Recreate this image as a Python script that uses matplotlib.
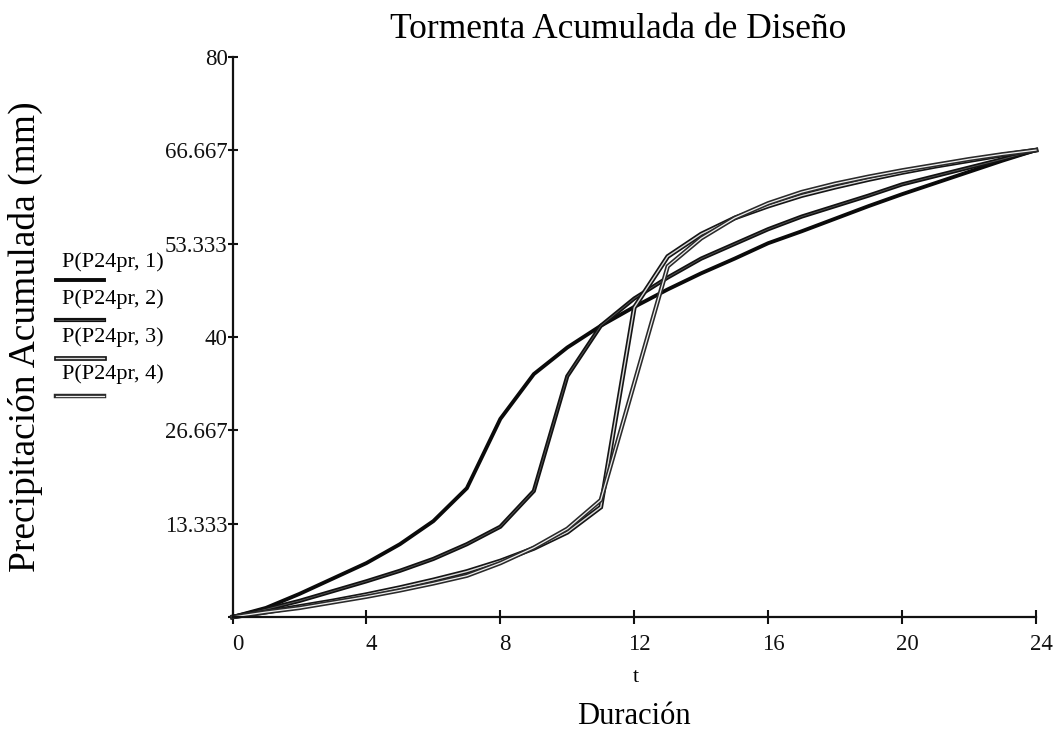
import matplotlib
matplotlib.use("Agg")
import matplotlib.pyplot as plt
import matplotlib.patheffects as pe
import matplotlib.transforms as mtransforms
from matplotlib.lines import Line2D

plt.rcParams["font.family"] = ["Liberation Serif", "DejaVu Serif"]

# Cumulative design storm (mm) per hour, one curve per distribution
hours = list(range(25))
p_1 = [0.0, 1.3, 3.3, 5.5, 7.7, 10.4, 13.7, 18.4, 28.3, 34.7, 38.5, 41.6, 44.3,
       46.8, 49.1, 51.2, 53.4, 55.1, 56.9, 58.7, 60.4, 62.0, 63.6, 65.2, 66.7]
p_2 = [0.0, 1.1, 2.3, 3.7, 5.1, 6.6, 8.3, 10.4, 12.9, 18.0, 34.4, 41.6, 45.5,
       48.5, 51.2, 53.3, 55.4, 57.2, 58.7, 60.2, 61.8, 63.0, 64.2, 65.4, 66.7]
p_3 = [0.0, 0.7, 1.5, 2.3, 3.2, 4.2, 5.3, 6.5, 8.0, 9.8, 12.1, 15.7, 44.2,
       51.5, 54.7, 57.0, 58.7, 60.2, 61.4, 62.5, 63.5, 64.4, 65.2, 66.0, 66.7]
p_4 = [0.0, 0.7, 1.3, 2.1, 2.9, 3.8, 4.8, 5.9, 7.7, 9.9, 12.6, 16.7, 33.4,
       50.1, 54.1, 57.0, 59.1, 60.7, 61.9, 62.9, 63.8, 64.6, 65.4, 66.1, 66.7]

series_labels = ["P(P24pr, 1)", "P(P24pr, 2)", "P(P24pr, 3)", "P(P24pr, 4)"]
x_ticks = [0, 4, 8, 12, 16, 20, 24]
y_ticks = [0, 13.333, 26.667, 40, 53.333, 66.667, 80]
y_tick_labels = ["", "13.333", "26.667", "40", "53.333", "66.667", "80"]

title = "Tormenta Acumulada de Diseño"
x_var = "t"
x_label = "Duración"
y_label = "Precipitación Acumulada (mm)"

W, H = 1057, 733
fig = plt.figure(figsize=(W / 100, H / 100), dpi=100)
ax = fig.add_axes([232.5 / W, 1 - 617 / H, (1036 - 232.5) / W, (617 - 57) / H])

# trace styles: solid dark traces and hollow (outlined) traces
styles = [
    dict(color="#0a0a0a", lw=2.8, path_effects=None),
    dict(color="#555555", lw=0.6,
         path_effects=[pe.Stroke(linewidth=3.0, foreground="#111111"), pe.Normal()]),
    dict(color="#d8d8d8", lw=1.0,
         path_effects=[pe.Stroke(linewidth=3.4, foreground="#151515"), pe.Normal()]),
    dict(color="#eeeeee", lw=0.9,
         path_effects=[pe.Stroke(linewidth=3.2, foreground="#2a2a2a"), pe.Normal()]),
]

for ys, st in zip([p_1, p_2, p_3, p_4], styles):
    ax.plot(hours, ys, color=st["color"], lw=st["lw"],
            path_effects=st["path_effects"], solid_joinstyle="miter",
            clip_on=False, zorder=3)

ax.set_xlim(0, 24)
ax.set_ylim(0, 80)
for side in ("top", "right"):
    ax.spines[side].set_visible(False)
for side in ("left", "bottom"):
    ax.spines[side].set_linewidth(1.6)
    ax.spines[side].set_color("#111111")
    ax.spines[side].set_zorder(4)

ax.set_xticks(x_ticks)
ax.set_xticklabels([str(v) for v in x_ticks])
ax.set_yticks(y_ticks)
ax.set_yticklabels(y_tick_labels)
ax.tick_params(axis="x", direction="inout", length=10, width=1.5, pad=7,
               labelsize=16.5, colors="#111111")
ax.tick_params(axis="y", direction="inout", length=7, width=1.5, pad=0,
               labelsize=16.5, colors="#111111")
shift = mtransforms.ScaledTranslation(0.05, 0, fig.dpi_scale_trans)
for lab in ax.get_xticklabels():
    lab.set_transform(lab.get_transform() + shift)

# titles and axis captions
fig.text(618 / W, 1 - 30 / H, title, ha="center", va="center", fontsize=25.5)
fig.text(636 / W, 1 - 677 / H, x_var, ha="center", va="center", fontsize=16)
fig.text(634 / W, 1 - 716 / H, x_label, ha="center", va="center", fontsize=22)
fig.text(25 / W, 1 - 337 / H, y_label, ha="center", va="center",
         rotation=90, fontsize=27)

# stacked key: label with a short trace sample under it
key_text_y = [262, 299, 337, 374]
key_line_y = [280, 320, 358, 396]
for lab, ty, ly, st in zip(series_labels, key_text_y, key_line_y, styles):
    fig.text(62 / W, 1 - ty / H, lab, ha="left", va="center", fontsize=16)
    ln = Line2D([56 / W, 104 / W], [1 - ly / H, 1 - ly / H],
                transform=fig.transFigure, color=st["color"], lw=st["lw"],
                path_effects=st["path_effects"])
    fig.add_artist(ln)

fig.savefig("out.png", dpi=100, facecolor="white")
